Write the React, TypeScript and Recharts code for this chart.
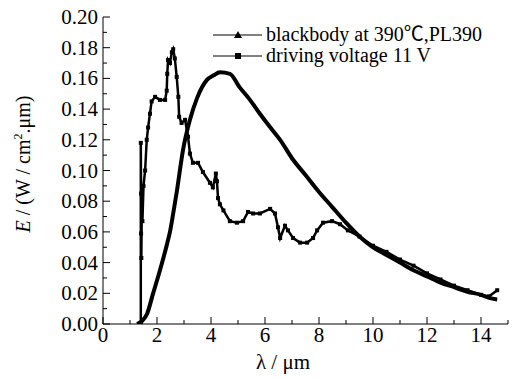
import { LineChart, Line, XAxis, YAxis } from "recharts"

const FONT = "Liberation Serif"
const TXT = { fontFamily: FONT, fontSize: 21, fill: "#000" }
const CSS = `#fig svg text, #fig svg tspan { font-family: 'Liberation Serif', 'Times New Roman', serif !important; }`

// blackbody at 390℃
const bbX = [1.26, 1.45, 1.63, 1.85, 2.11, 2.37, 2.48, 2.6, 2.74, 2.96, 3.22, 3.48, 3.85, 4.1, 4.33, 4.7, 5.07, 5.4, 5.81, 6.2, 6.56, 7.0, 7.5, 8.0, 8.5, 9.0, 9.5, 10.0, 10.5, 11.0, 11.5, 12.0, 12.5, 13.0, 13.5, 14.0, 14.3, 14.6]
const bbY = [0, 0.002, 0.0065, 0.0196, 0.035, 0.052, 0.06, 0.072, 0.087, 0.113, 0.133, 0.147, 0.159, 0.162, 0.164, 0.163, 0.154, 0.147, 0.137, 0.128, 0.12, 0.108, 0.097, 0.086, 0.076, 0.066, 0.057, 0.05, 0.045, 0.04, 0.035, 0.031, 0.027, 0.024, 0.021, 0.019, 0.017, 0.016]

// driving voltage 11 V
const dvX = [1.4, 1.4, 1.41, 1.41, 1.42, 1.44, 1.46, 1.5, 1.56, 1.62, 1.67, 1.74, 1.8, 1.93, 2.11, 2.3, 2.36, 2.38, 2.41, 2.48, 2.55, 2.6, 2.66, 2.73, 2.79, 2.82, 2.91, 3.04, 3.15, 3.22, 3.33, 3.52, 3.7, 3.96, 4.07, 4.18, 4.22, 4.26, 4.33, 4.46, 4.7, 4.96, 5.19, 5.37, 5.56, 5.81, 6.19, 6.37, 6.48, 6.56, 6.74, 6.85, 7.04, 7.3, 7.56, 7.78, 7.93, 8.15, 8.48, 8.78, 9.07, 9.5, 10.0, 10.5, 11.0, 11.5, 12.0, 12.5, 13.0, 13.5, 14.0, 14.3, 14.6]
const dvY = [0, 0.118, 0.085, 0.059, 0.043, 0.083, 0.067, 0.09, 0.1, 0.12, 0.128, 0.137, 0.145, 0.148, 0.146, 0.146, 0.152, 0.163, 0.172, 0.17, 0.177, 0.179, 0.173, 0.161, 0.148, 0.135, 0.131, 0.133, 0.122, 0.111, 0.105, 0.105, 0.099, 0.092, 0.089, 0.098, 0.093, 0.082, 0.078, 0.074, 0.067, 0.066, 0.067, 0.073, 0.072, 0.072, 0.075, 0.072, 0.063, 0.056, 0.064, 0.061, 0.056, 0.053, 0.053, 0.056, 0.061, 0.066, 0.067, 0.065, 0.061, 0.057, 0.051, 0.047, 0.042, 0.038, 0.033, 0.029, 0.025, 0.022, 0.019, 0.018, 0.022]

const xTicks = [0, 1, 2, 3, 4, 5, 6, 7, 8, 9, 10, 11, 12, 13, 14, 15]
const yTicks = [0, 0.01, 0.02, 0.03, 0.04, 0.05, 0.06, 0.07, 0.08, 0.09, 0.1, 0.11, 0.12, 0.13, 0.14, 0.15, 0.16, 0.17, 0.18, 0.19, 0.2]

const bbData = bbX.map((x, i) => ({ x, y: bbY[i] }))
const dvData = dvX.map((x, i) => ({ x, y: dvY[i] }))

const MAJOR = 7
const MINOR = 4

function BottomTick(props: any) {
  const { x, y, index } = props
  const major = index % 2 === 0
  return (
    <g>
      <line x1={x} x2={x} y1={y} y2={y - (major ? MAJOR : MINOR)} stroke="#000" />
      {major && index < 15 && (
        <text x={x} y={y + 18} textAnchor="middle" fontFamily={FONT} style={TXT}>
          {xTicks[index]}
        </text>
      )}
    </g>
  )
}

function TopTick(props: any) {
  const { x, y, index } = props
  const major = index % 2 === 0
  return <line x1={x} x2={x} y1={y} y2={y + (major ? MAJOR : MINOR)} stroke="#000" />
}

function LeftTick(props: any) {
  const { x, y, index } = props
  const major = index % 2 === 0
  return (
    <g>
      <line x1={x} x2={x + (major ? MAJOR : MINOR)} y1={y} y2={y} stroke="#000" />
      {major && (
        <text x={x - 5} y={y + 7} textAnchor="end" fontFamily={FONT} style={TXT}>
          {yTicks[index].toFixed(2)}
        </text>
      )}
    </g>
  )
}

function RightTick(props: any) {
  const { x, y, index } = props
  const major = index % 2 === 0
  return <line x1={x} x2={x - (major ? MAJOR : MINOR)} y1={y} y2={y} stroke="#000" />
}

function Square(props: any) {
  const { cx, cy, index } = props
  return <rect key={"s" + index} x={cx - 2} y={cy - 2} width={4} height={4} fill="#000" />
}

function LegendRow({ marker, label }: { marker: string; label: string }) {
  return (
    <div style={{ display: "flex", alignItems: "center", height: 21 }}>
      <svg width={50} height={20} style={{ marginRight: 3 }}>
        <line x1={0} x2={49} y1={10} y2={10} stroke="#000" strokeWidth={1} />
        {marker === "tri" ? (
          <path d="M25,6 L29,13 L21,13 Z" fill="#000" />
        ) : (
          <rect x={22} y={7} width={6} height={6} fill="#000" />
        )}
      </svg>
      <span style={{ whiteSpace: "nowrap" }}>{label}</span>
    </div>
  )
}

function LegendBox() {
  return (
    <div
      style={{
        position: "absolute",
        left: 213,
        top: 24,
        fontFamily: "'Liberation Serif', 'Noto Sans CJK SC', serif",
        fontSize: 20,
        color: "#000",
        lineHeight: "21px",
      }}
    >
      <LegendRow marker="tri" label="blackbody at 390℃,PL390" />
      <LegendRow marker="sq" label="driving voltage 11 V" />
    </div>
  )
}

export default function App() {
  return (
    <div id="fig" style={{ position: "absolute", left: 0, top: 0, width: 518, height: 381, background: "#fff" }}>
      <style>{CSS}</style>
      <LineChart width={518} height={381} margin={{ top: 17, right: 10, bottom: 0, left: 0 }}>
        <XAxis
          dataKey="x"
          type="number"
          domain={[0, 15]}
          ticks={xTicks}
          interval={0}
          allowDataOverflow
          height={57}
          tickSize={0}
          tickMargin={0}
          tickLine={false}
          axisLine={{ stroke: "#000" }}
          tick={BottomTick}
          label={{
            content: () => (
              <text x={283} y={369} textAnchor="middle" fontFamily={FONT} style={TXT}>
                λ / μm
              </text>
            ),
          }}
        />
        <XAxis
          xAxisId="top"
          orientation="top"
          type="number"
          domain={[0, 15]}
          ticks={xTicks}
          interval={0}
          allowDataOverflow
          height={0}
          tickSize={0}
          tickMargin={0}
          tickLine={false}
          axisLine={{ stroke: "#000" }}
          tick={TopTick}
        />
        <YAxis
          type="number"
          domain={[0, 0.2]}
          ticks={yTicks}
          interval={0}
          allowDataOverflow
          width={103}
          tickSize={0}
          tickMargin={0}
          tickLine={false}
          axisLine={{ stroke: "#000" }}
          tick={LeftTick}
          label={{
            content: () => (
              <text
                x={30}
                y={164}
                textAnchor="middle"
                fontFamily={FONT}
                style={{ ...TXT, fontSize: 20 }}
                transform="rotate(-90 30 164)"
              >
                <tspan fontStyle="italic">E</tspan>
                <tspan> / (W / cm</tspan>
                <tspan dy={-8} style={{ fontSize: 12 }}>2</tspan>
                <tspan dy={8}>.μm)</tspan>
              </text>
            ),
          }}
        />
        <YAxis
          yAxisId="right"
          orientation="right"
          type="number"
          domain={[0, 0.2]}
          ticks={yTicks}
          interval={0}
          allowDataOverflow
          width={0}
          tickSize={0}
          tickMargin={0}
          tickLine={false}
          axisLine={{ stroke: "#000" }}
          tick={RightTick}
        />
        <Line
          data={bbData}
          dataKey="y"
          type="monotone"
          stroke="#000"
          strokeWidth={4}
          dot={false}
          isAnimationActive={false}
          name="blackbody at 390℃,PL390"
        />
        <Line
          data={dvData}
          dataKey="y"
          type="linear"
          stroke="#000"
          strokeWidth={2.5}
          dot={Square}
          isAnimationActive={false}
          name="driving voltage 11 V"
        />
      </LineChart>
      <LegendBox />
    </div>
  )
}
